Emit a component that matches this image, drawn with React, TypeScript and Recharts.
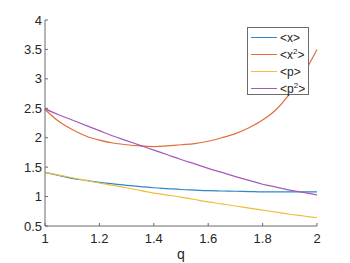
import { LineChart, Line, XAxis, YAxis } from 'recharts'

const qValues = [1.0, 1.05, 1.1, 1.15, 1.2, 1.25, 1.3, 1.35, 1.4, 1.45, 1.5, 1.55, 1.6, 1.65, 1.7, 1.75, 1.8, 1.85, 1.9, 1.95, 2.0]
const xMean = [1.41, 1.36, 1.31, 1.275, 1.24, 1.215, 1.19, 1.17, 1.15, 1.135, 1.12, 1.11, 1.1, 1.095, 1.09, 1.085, 1.08, 1.08, 1.08, 1.08, 1.08]
const x2Mean = [2.48, 2.28, 2.14, 2.03, 1.96, 1.91, 1.88, 1.86, 1.85, 1.86, 1.88, 1.9, 1.94, 2.0, 2.07, 2.17, 2.3, 2.48, 2.75, 3.08, 3.5]
const pMean = [1.41, 1.365, 1.32, 1.275, 1.23, 1.19, 1.15, 1.105, 1.06, 1.025, 0.99, 0.95, 0.91, 0.875, 0.84, 0.805, 0.77, 0.735, 0.7, 0.67, 0.64]
const p2Mean = [2.49, 2.39, 2.3, 2.21, 2.12, 2.03, 1.95, 1.87, 1.79, 1.71, 1.63, 1.555, 1.48, 1.41, 1.34, 1.275, 1.21, 1.16, 1.11, 1.07, 1.03]

const xTicks = [1, 1.2, 1.4, 1.6, 1.8, 2]
const yTicks = [0.5, 1, 1.5, 2, 2.5, 3, 3.5, 4]

const data = qValues.map((q, i) => ({
  q,
  x: xMean[i],
  x2: x2Mean[i],
  p: pMean[i],
  p2: p2Mean[i],
}))

const series = [
  { key: 'x', base: 'x', sup: '', color: '#2f86c8' },
  { key: 'x2', base: 'x', sup: '2', color: '#e36d3d' },
  { key: 'p', base: 'p', sup: '', color: '#f0bd3f' },
  { key: 'p2', base: 'p', sup: '2', color: '#a35bb7' },
]

const axisColor = '#6b6b6b'
const fontFamily = 'Liberation Sans, Arial, sans-serif'
const tickFont = { fontSize: 13, fill: '#262626', fontFamily }

function LegendBox() {
  return (
    <div
      style={{
        position: 'absolute',
        left: 247,
        top: 27,
        width: 62,
        height: 68,
        background: '#fff',
        border: '1px solid #6b6b6b',
        boxSizing: 'border-box',
        fontFamily,
        fontSize: 12,
        color: '#262626',
        paddingTop: 1,
      }}
    >
      {series.map((s) => (
        <div key={s.key} style={{ display: 'flex', alignItems: 'center', height: 17, lineHeight: '17px' }}>
          <div style={{ width: 26, height: 0, borderTop: `1.5px solid ${s.color}`, marginLeft: 3, marginRight: 3 }} />
          <span style={{ position: 'relative', top: 1 }}>
            &lt;{s.base}
            {s.sup && (
              <span style={{ fontSize: 8, position: 'relative', top: -5 }}>{s.sup}</span>
            )}
            &gt;
          </span>
        </div>
      ))}
    </div>
  )
}

export default function App() {
  return (
    <div style={{ position: 'absolute', left: 0, top: 0, width: 350, height: 263, background: '#fff' }}>
      <LineChart width={350} height={263} data={data} margin={{ top: 20, right: 33, left: 0, bottom: 0 }}>
        <XAxis
          dataKey="q"
          type="number"
          domain={[1, 2]}
          ticks={xTicks}
          interval={0}
          height={37}
          tickSize={-3}
          tickMargin={11}
          stroke={axisColor}
          tick={tickFont}
          label={{ value: 'q', position: 'insideBottom', offset: 4, style: { ...tickFont, fontSize: 14 } }}
        />
        <XAxis
          xAxisId="top"
          orientation="top"
          type="number"
          domain={[1, 2]}
          ticks={xTicks}
          interval={0}
          height={0}
          tickSize={-3}
          tick={false}
          stroke={axisColor}
        />
        <YAxis
          type="number"
          domain={[0.5, 4]}
          ticks={yTicks}
          interval={0}
          width={45}
          tickSize={-3}
          tickMargin={6}
          stroke={axisColor}
          tick={tickFont}
        />
        <YAxis
          yAxisId="right"
          orientation="right"
          type="number"
          domain={[0.5, 4]}
          ticks={yTicks}
          interval={0}
          width={0}
          tickSize={-3}
          tick={false}
          stroke={axisColor}
        />
        {series.map((s) => (
          <Line
            key={s.key}
            type="monotone"
            dataKey={s.key}
            stroke={s.color}
            strokeWidth={1.2}
            dot={false}
            isAnimationActive={false}
          />
        ))}
      </LineChart>
      <LegendBox />
    </div>
  )
}
